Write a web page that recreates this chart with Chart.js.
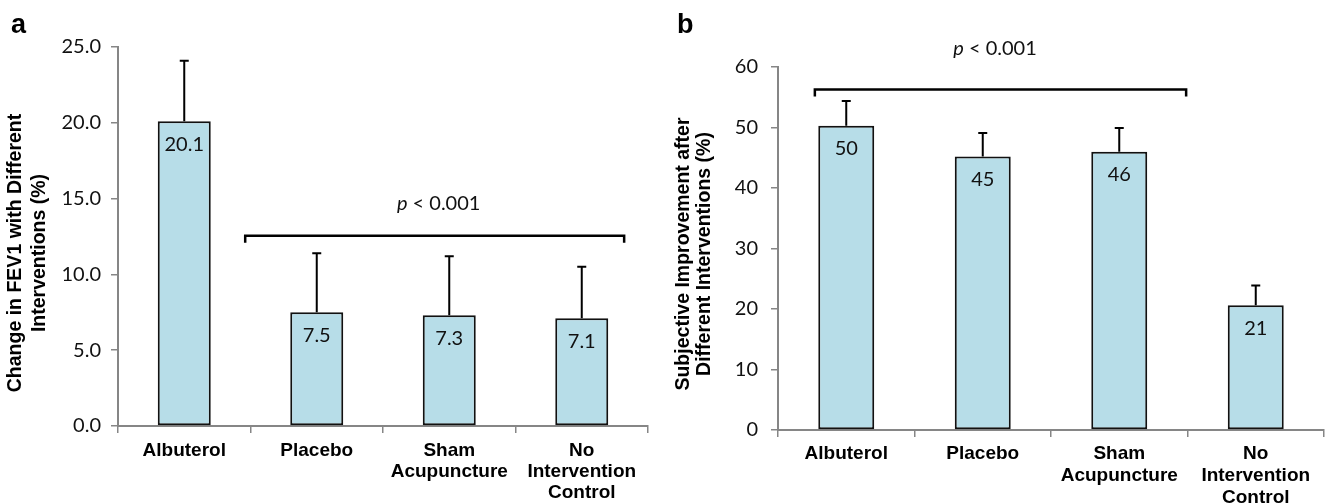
<!DOCTYPE html>
<html>
<head>
<meta charset="utf-8">
<script src="https://cdn.jsdelivr.net/npm/chart.js@4.4.1/dist/chart.umd.min.js"></script>
<style>
  html, body { margin: 0; padding: 0; background: #fff; }
  #wrap { position: relative; width: 1325px; height: 503px; }
  canvas { position: absolute; top: 0; }
</style>
</head>
<body>
<div id="wrap">
  <canvas id="chartA" width="660" height="503" style="left:0"></canvas>
  <canvas id="chartB" width="665" height="503" style="left:660px"></canvas>
</div>
<script>
// categories (multi-line labels)
const categories = [['Albuterol'], ['Placebo'], ['Sham', 'Acupuncture'], ['No', 'Intervention', 'Control']];

// panel a: change in FEV1 (%)
const fev1Change = [20.1, 7.5, 7.3, 7.1];
const fev1Error  = [4.0, 3.9, 3.9, 3.4];
const fev1Ticks  = [0, 5, 10, 15, 20, 25];

// panel b: subjective improvement (%)
const subjImprove = [50.3, 45.2, 46.0, 20.6];
const subjError   = [4.1, 3.9, 3.9, 3.3];
const subjTicks   = [0, 10, 20, 30, 40, 50, 60];

const AXIS_GRAY = '#868686';
const BAR_FILL = '#b7dde8';
const LABEL_FONT = 'Lato, "Open Sans", sans-serif';
const BOLD_FONT = '"Liberation Sans", Arial, sans-serif';

function annotations(spec) {
  return {
    id: 'annot_' + spec.letter,
    afterDatasetsDraw(chart) {
      const ctx = chart.ctx;
      const xs = chart.scales.x, ys = chart.scales.y;
      const bars = chart.getDatasetMeta(0).data;
      ctx.save();
      // error bars (upper only)
      ctx.strokeStyle = '#000';
      ctx.lineWidth = 2;
      bars.forEach((bar, i) => {
        const top = ys.getPixelForValue(spec.values[i] + spec.errors[i]);
        ctx.beginPath();
        ctx.moveTo(bar.x, bar.y);
        ctx.lineTo(bar.x, top);
        ctx.moveTo(bar.x - 4.5, top);
        ctx.lineTo(bar.x + 4.5, top);
        ctx.stroke();
      });
      // value labels inside bars
      ctx.fillStyle = '#111';
      ctx.font = '20px ' + LABEL_FONT;
      ctx.textAlign = 'center';
      ctx.textBaseline = 'middle';
      bars.forEach((bar, i) => {
        ctx.fillText(spec.values[i].toFixed(spec.decimals), bar.x, bar.y + 23);
      });
      // significance bracket
      const b = spec.bracket;
      const x0 = xs.getPixelForValue(b.from), x1 = xs.getPixelForValue(b.to);
      const yb = ys.getPixelForValue(b.level);
      ctx.lineWidth = 2.5;
      ctx.lineJoin = 'miter';
      ctx.beginPath();
      ctx.moveTo(x0, yb + 7);
      ctx.lineTo(x0, yb);
      ctx.lineTo(x1, yb);
      ctx.lineTo(x1, yb + 7);
      ctx.stroke();
      // p value text
      const px = xs.getPixelForValue(b.textX), py = ys.getPixelForValue(b.textY);
      ctx.font = 'italic 20px ' + LABEL_FONT;
      const wP = ctx.measureText('p').width;
      ctx.font = '20px ' + LABEL_FONT;
      const rest = ' < 0.001';
      const wR = ctx.measureText(rest).width;
      let sx = px - (wP + wR) / 2;
      ctx.textAlign = 'left';
      ctx.font = 'italic 20px ' + LABEL_FONT;
      ctx.fillText('p', sx, py);
      ctx.font = '20px ' + LABEL_FONT;
      ctx.fillText(rest, sx + wP, py);
      ctx.restore();
    },
    afterDraw(chart) {
      const ctx = chart.ctx;
      ctx.save();
      ctx.fillStyle = '#000';
      // panel letter
      ctx.font = 'bold 27px ' + BOLD_FONT;
      ctx.textAlign = 'left';
      ctx.textBaseline = 'alphabetic';
      ctx.fillText(spec.letter, spec.letterX, 33);
      // y axis title (two lines, rotated)
      ctx.font = 'bold 19.5px ' + BOLD_FONT;
      ctx.textAlign = 'center';
      ctx.textBaseline = 'middle';
      spec.title.forEach((line, i) => {
        ctx.save();
        ctx.translate(spec.titleX[i], spec.titleY);
        ctx.rotate(-Math.PI / 2);
        ctx.fillText(line, 0, 0);
        ctx.restore();
      });
      ctx.restore();
    }
  };
}

function makeChart(id, spec) {
  return new Chart(document.getElementById(id), {
    type: 'bar',
    data: {
      labels: categories,
      datasets: [{
        data: spec.values,
        backgroundColor: BAR_FILL,
        borderColor: '#111',
        borderWidth: 2,
        borderSkipped: false,
        barPercentage: spec.barPct,
        categoryPercentage: 1.0
      }]
    },
    options: {
      responsive: false,
      animation: false,
      events: [],
      layout: { padding: { left: 0, right: spec.padRight, top: spec.chartTop, bottom: 0 } },
      plugins: { legend: { display: false }, tooltip: { enabled: false } },
      scales: {
        x: {
          grid: { offset: true, drawOnChartArea: false, tickLength: 7, color: AXIS_GRAY, lineWidth: 1.5 },
          border: { color: AXIS_GRAY, width: 2 },
          ticks: {
            color: '#000',
            padding: spec.xPad,
            maxRotation: 0,
            autoSkip: false,
            font: { family: BOLD_FONT, size: 19, weight: 'bold', lineHeight: spec.xLine }
          },
          afterFit: s => { s.height = 503 - spec.chartBottom; }
        },
        y: {
          min: spec.ticks[0],
          max: spec.ticks[spec.ticks.length - 1],
          afterBuildTicks: s => { s.ticks = spec.ticks.map(v => ({ value: v })); },
          grid: { drawOnChartArea: false, tickLength: 7, color: AXIS_GRAY, lineWidth: 1.5 },
          border: { color: AXIS_GRAY, width: 2 },
          ticks: {
            color: '#111',
            padding: spec.yPad,
            font: { family: LABEL_FONT, size: 20 },
            callback: v => v.toFixed(spec.tickDecimals)
          },
          afterFit: s => { s.width = 118; }
        }
      }
    },
    plugins: [annotations(spec)]
  });
}

makeChart('chartA', {
  letter: 'a', letterX: 11,
  values: fev1Change, errors: fev1Error, ticks: fev1Ticks,
  decimals: 1, tickDecimals: 1,
  barPct: 0.40,
  chartTop: 47, chartBottom: 426, padRight: 12,
  xPad: 7, yPad: 10, xLine: 1.12,
  bracket: { from: 0.46, to: 3.32, level: 12.55, textX: 1.92, textY: 14.65 },
  title: ['Change in FEV1 with Different', 'Interventions (%)'],
  titleX: [16, 40], titleY: 253
});

makeChart('chartB', {
  letter: 'b', letterX: 17,
  values: subjImprove, errors: subjError, ticks: subjTicks,
  decimals: 0, tickDecimals: 0,
  barPct: 0.41,
  chartTop: 67, chartBottom: 430, padRight: 1,
  xPad: 6, yPad: 13, xLine: 1.15,
  bracket: { from: -0.23, to: 2.49, level: 56.3, textX: 1.09, textY: 63.0 },
  title: ['Subjective Improvement after', 'Different Interventions (%)'],
  titleX: [24, 45], titleY: 254
});
</script>
</body>
</html>
